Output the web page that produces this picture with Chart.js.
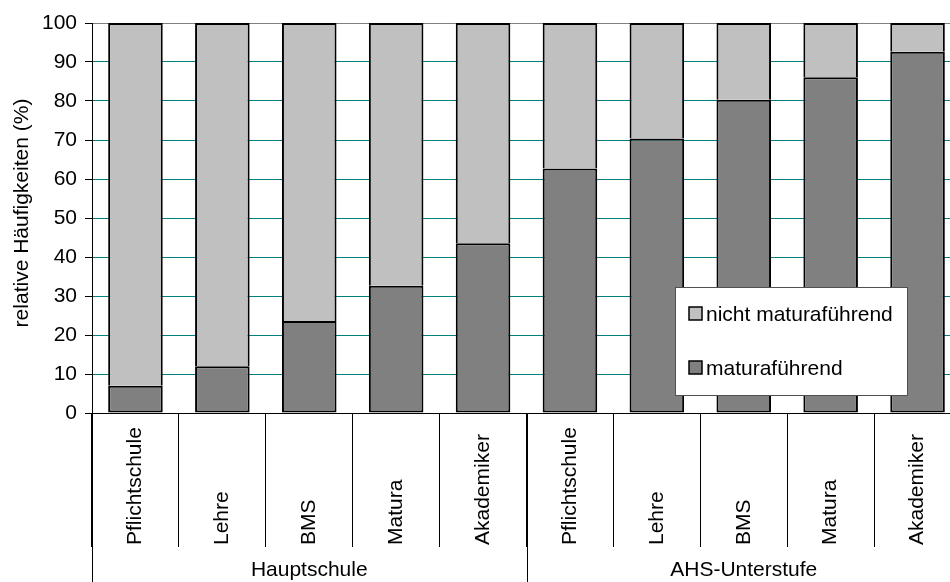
<!DOCTYPE html>
<html>
<head>
<meta charset="utf-8">
<script src="https://cdn.jsdelivr.net/npm/chart.js@4/dist/chart.umd.min.js"></script>
<style>
    html, body { margin: 0; padding: 0; background: #fff; overflow: hidden; }
    #wrap { width: 962px; height: 582px; }
</style>
</head>
<body>
<div id="wrap"><canvas id="chart" width="962" height="582"></canvas></div>
<script>
// Daten
const categories = ['Pflichtschule', 'Lehre', 'BMS', 'Matura', 'Akademiker',
                    'Pflichtschule', 'Lehre', 'BMS', 'Matura', 'Akademiker'];
const groups = ['Hauptschule', 'AHS-Unterstufe'];
const groupSize = 5;
const maturaValues = [7, 12, 23.6, 32.6, 43.5, 62.7, 70.4, 80.3, 86.1, 92.6];
const nichtMaturaValues = [93, 88, 76.4, 67.4, 56.5, 37.3, 29.6, 19.7, 13.9, 7.4];
const yTitle = 'relative Häufigkeiten (%)';

const FONT = '"Liberation Sans", Arial, sans-serif';
const FSIZE = 21;

// Achsenbeschriftungen, Gruppen und Legende zeichnen
const decorPlugin = {
    id: 'decor',
    afterDraw(chart) {
        const ctx = chart.ctx;
        const area = chart.chartArea;
        const xs = chart.scales.x;
        const H = chart.height;
        const step = (area.right - area.left) / categories.length;

        ctx.save();
        ctx.fillStyle = '#000';
        ctx.font = FSIZE + 'px ' + FONT;

        // Y-Achsentitel
        ctx.save();
        ctx.translate(22, (area.top + area.bottom) / 2 - 5);
        ctx.rotate(-Math.PI / 2);
        ctx.textAlign = 'center';
        ctx.textBaseline = 'middle';
        ctx.fillText(yTitle, 0, 0);
        ctx.restore();

        // Kategorien (gedreht)
        categories.forEach((c, i) => {
            const x = xs.getPixelForValue(i);
            ctx.save();
            ctx.translate(x, 545);
            ctx.rotate(-Math.PI / 2);
            ctx.textAlign = 'left';
            ctx.textBaseline = 'middle';
            ctx.fillText(c, 0, 0);
            ctx.restore();
        });

        // Gruppentrennlinien bis nach unten
        ctx.strokeStyle = '#000';
        ctx.lineWidth = 1;
        for (let g = 0; g <= groups.length; g++) {
            const x = Math.round(area.left + g * groupSize * step) + 0.5;
            ctx.beginPath();
            ctx.moveTo(x, area.bottom);
            ctx.lineTo(x, H);
            ctx.stroke();
        }

        // Gruppenbeschriftungen
        ctx.textAlign = 'center';
        ctx.textBaseline = 'middle';
        groups.forEach((g, i) => {
            const x = area.left + (i + 0.5) * groupSize * step;
            ctx.fillText(g, x, 570);
        });

        // Legende
        const lx = 675, ly = 287, lw = 232, lh = 108;
        ctx.fillStyle = '#fff';
        ctx.fillRect(lx, ly, lw, lh);
        ctx.strokeStyle = '#505050';
        ctx.lineWidth = 1;
        ctx.strokeRect(lx + 0.5, ly + 0.5, lw, lh);
        const items = chart.data.datasets.slice().reverse();
        items.forEach((ds, i) => {
            const cy = 314 + i * 54;
            ctx.fillStyle = ds.backgroundColor;
            ctx.fillRect(689, cy - 7, 13, 13);
            ctx.strokeStyle = '#000';
            ctx.lineWidth = 1.5;
            ctx.strokeRect(689, cy - 7, 13, 13);
            ctx.fillStyle = '#000';
            ctx.textAlign = 'left';
            ctx.fillText(ds.label, 706, cy + 1);
        });
        ctx.restore();
    }
};

new Chart(document.getElementById('chart'), {
    type: 'bar',
    data: {
        labels: categories,
        datasets: [
            {
                label: 'maturaführend',
                data: maturaValues,
                backgroundColor: '#808080',
                borderColor: '#000',
                borderWidth: 2,
                borderSkipped: false
            },
            {
                label: 'nicht maturaführend',
                data: nichtMaturaValues,
                backgroundColor: '#C0C0C0',
                borderColor: '#000',
                borderWidth: 2,
                borderSkipped: 'bottom'
            }
        ]
    },
    options: {
        responsive: false,
        animation: false,
        devicePixelRatio: 1,
        layout: { padding: { top: 23, right: 1, left: 0, bottom: 0 } },
        datasets: { bar: { categoryPercentage: 1, barPercentage: 0.628 } },
        plugins: {
            legend: { display: false },
            tooltip: { enabled: false }
        },
        scales: {
            x: {
                stacked: true,
                offset: true,
                afterFit: s => { s.height = 169; },
                ticks: { display: false },
                grid: {
                    offset: true,
                    drawOnChartArea: false,
                    tickLength: 134,
                    color: '#000',
                    lineWidth: 1
                },
                border: { color: '#000', width: 1 }
            },
            y: {
                stacked: true,
                min: 0,
                max: 100,
                afterFit: s => { s.width = 92; },
                ticks: {
                    stepSize: 10,
                    padding: 8,
                    color: '#000',
                    font: { family: FONT, size: FSIZE }
                },
                grid: {
                    color: c => (c.tick && c.tick.value === 100 ? '#808080' : '#008080'),
                    tickColor: '#000',
                    tickLength: 7,
                    lineWidth: 1
                },
                border: { color: '#000', width: 1 }
            }
        }
    },
    plugins: [decorPlugin]
});
</script>
</body>
</html>
